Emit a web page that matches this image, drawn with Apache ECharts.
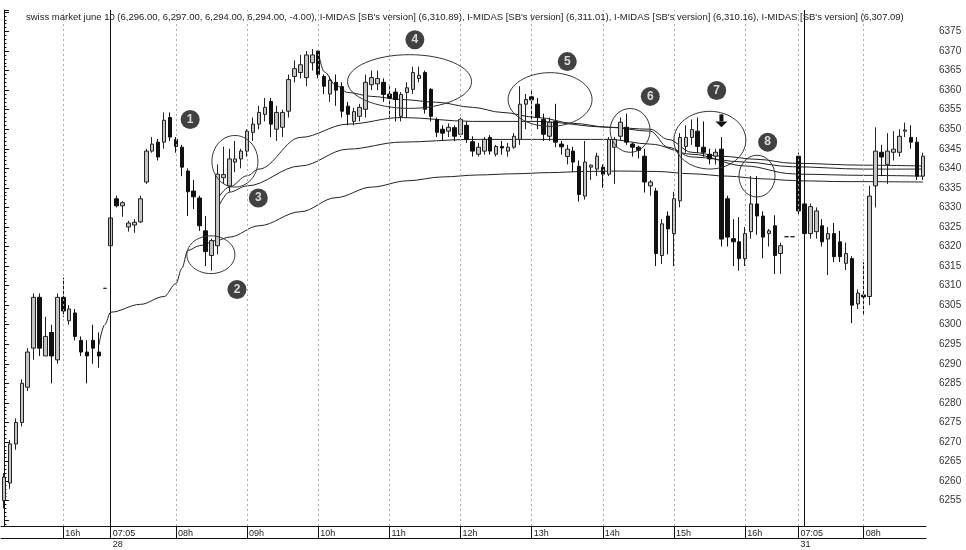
<!DOCTYPE html>
<html><head><meta charset="utf-8">
<script src="https://cdn.jsdelivr.net/npm/echarts@6/dist/echarts.min.js"></script>
<style>html,body{margin:0;padding:0;background:#fff}#c{width:966px;height:550px}</style>
</head><body><div id="c"></div>
<script>
const titleText = "swiss market june 10 (6,296.00, 6,297.00, 6,294.00, 6,294.00, -4.00), I-MIDAS [SB's version] (6,310.89), I-MIDAS [SB's version] (6,311.01), I-MIDAS [SB's version] (6,310.16), I-MIDAS [SB's version] (6,307.09)";

// sessions: [day, first bar, last bar] (5-minute bars)
const sessions = [['27', '15:10', '16:35'], ['28', '07:05', '16:40'], ['31', '07:05', '08:50']];

// candles: [open, close, low, high]
const day1Candles = [
  [6255, 6261, 6253, 6262], [6259.5, 6269.5, 6258, 6270.5], [6269.5, 6275, 6268, 6276], [6275, 6285, 6274, 6286],
  [6284, 6293, 6283, 6294], [6294, 6307, 6291, 6308], [6307, 6294, 6292, 6308], [6292, 6297, 6292, 6302],
  [6298, 6292, 6285, 6300], [6291, 6307, 6290, 6308], [6307, 6303.5, 6302, 6312], [6301, 6304, 6300, 6305],
  [6303, 6297, 6296, 6304], [6296, 6293, 6292, 6297], [6293, 6292, 6285, 6296], [6296, 6294, 6290, 6300],
  [6293, 6292, 6289, 6298], [6309.3, 6309.3, 6309.3, 6309.3]
];
const day2Candles = [
  [6320.2, 6327.3, 6319, 6328], [6332.2, 6330.4, 6330, 6333], [6330.4, 6331.2, 6327.6, 6331.6], [6325, 6326, 6323.8, 6326.6],
  [6325.5, 6326.2, 6323.5, 6327], [6326.3, 6332.2, 6326, 6333], [6336.5, 6344.4, 6336, 6345], [6344.4, 6346.2, 6344, 6348],
  [6346.7, 6342.9, 6342, 6347.5], [6346.7, 6352.3, 6345, 6354.3], [6353, 6348, 6347, 6354.3], [6347.4, 6345.6, 6344, 6348],
  [6345.4, 6340.3, 6338, 6346], [6339.3, 6334, 6327.8, 6340], [6334.2, 6332.7, 6329.6, 6337], [6332.4, 6325.3, 6324, 6333],
  [6324, 6318.7, 6315, 6327.8], [6317.7, 6321.5, 6313.8, 6322], [6320.2, 6338.5, 6318, 6341], [6337.6, 6338.4, 6336, 6345.5],
  [6335.5, 6342.4, 6334, 6345], [6341.6, 6342.4, 6339, 6347], [6342.4, 6344.4, 6340, 6345], [6344.4, 6349.5, 6343, 6350],
  [6349.2, 6351.3, 6347, 6353], [6351.3, 6354.3, 6350, 6356], [6353.8, 6355.6, 6352, 6358], [6357.1, 6351.3, 6348, 6358],
  [6350, 6354.3, 6347, 6356], [6350.5, 6354.3, 6348, 6355], [6354.6, 6362.7, 6353, 6364], [6363.5, 6365.5, 6362, 6367.6],
  [6364.5, 6366.5, 6363, 6369], [6363.2, 6369, 6361, 6370], [6367, 6369, 6365, 6370.5], [6370, 6364, 6363, 6370],
  [6363.5, 6361, 6359, 6364], [6359, 6362.5, 6357, 6363.5], [6362, 6360, 6356, 6364], [6360.9, 6354.6, 6353, 6362],
  [6355.9, 6353.8, 6351, 6357], [6352, 6354.5, 6351, 6355.5], [6353.3, 6355.6, 6352, 6356.5], [6355.1, 6362, 6353, 6364],
  [6361.4, 6363.2, 6360, 6365], [6361.6, 6363, 6360, 6365], [6362, 6358.9, 6357, 6363], [6359, 6358, 6353, 6361],
  [6359.5, 6357.6, 6352, 6360.5], [6353.3, 6358.9, 6352, 6359.5], [6359.4, 6360.6, 6353, 6362], [6360.2, 6364.5, 6359, 6366],
  [6363, 6363.8, 6362, 6366], [6364.5, 6355.1, 6354, 6365], [6360.2, 6353.3, 6352, 6360.5], [6352.5, 6349.2, 6348, 6353],
  [6350, 6349, 6347, 6351], [6349.5, 6350.5, 6348, 6351.5], [6350.4, 6348.2, 6347, 6351], [6348.7, 6352.5, 6348, 6353],
  [6351, 6347.4, 6346.5, 6352], [6346.8, 6344.4, 6343, 6348.2], [6343.6, 6345.4, 6343, 6346.5], [6344.4, 6347.4, 6343.5, 6348],
  [6347.9, 6344.4, 6343.5, 6348.5], [6343.6, 6345.6, 6343, 6346], [6345.6, 6345.2, 6343.5, 6347], [6344.4, 6345.4, 6343, 6346.5],
  [6345.4, 6348.2, 6345, 6349], [6347.4, 6356.4, 6346, 6361], [6356.4, 6357.6, 6350, 6359], [6358.3, 6357.5, 6352, 6360],
  [6356.4, 6353, 6350, 6358], [6352.5, 6348.7, 6347, 6354], [6348.2, 6351.8, 6347, 6353], [6352, 6346.7, 6345.4, 6356.5],
  [6346.2, 6345.5, 6343.5, 6347], [6343, 6344.9, 6341, 6346], [6344.4, 6341.6, 6339, 6345.5], [6340.5, 6333.3, 6331.5, 6342],
  [6332.9, 6341.6, 6332, 6347], [6340.3, 6340.8, 6337, 6341], [6339.8, 6343.1, 6338, 6344], [6340.3, 6338.5, 6335, 6341],
  [6338.5, 6347.4, 6338, 6348], [6345.4, 6347.4, 6336, 6348], [6348.2, 6351.8, 6347, 6353], [6350.5, 6346.7, 6346, 6354],
  [6346.2, 6345.4, 6343, 6346.5], [6345.4, 6344.6, 6342.5, 6345.8], [6343.1, 6336.5, 6333.8, 6345], [6335.5, 6336.5, 6333, 6337],
  [6334.2, 6318.2, 6315, 6335], [6317.7, 6325.8, 6315.5, 6327], [6327.8, 6324.5, 6318, 6329], [6323.3, 6332.2, 6315, 6334],
  [6331.7, 6347.9, 6330, 6349], [6345.6, 6347.9, 6344, 6351], [6347.9, 6349.9, 6346, 6352.5], [6349.5, 6345.6, 6344, 6353],
  [6345.4, 6344.1, 6343, 6352], [6343.6, 6342.4, 6341, 6345], [6343.1, 6344.1, 6341, 6345], [6344.9, 6321.9, 6320, 6348],
  [6332.2, 6322.4, 6320, 6333], [6322, 6321.2, 6315, 6327], [6321.2, 6316.9, 6313.8, 6327.5], [6316.9, 6323.3, 6315, 6325],
  [6323.8, 6330.9, 6322, 6338], [6330.9, 6327.8, 6323, 6338], [6327.8, 6322.4, 6317, 6329], [6323.3, 6324, 6320, 6324.5],
  [6325.3, 6317.7, 6313, 6328], [6318.2, 6320.2, 6313, 6321], [6322.5, 6322.5, 6322.5, 6322.5], [6322.5, 6322.5, 6322.5, 6322.5]
];
const day3Candles = [
  [6343.1, 6329.1, 6328, 6344], [6330.9, 6323.3, 6321, 6331], [6323.3, 6330.2, 6322, 6331], [6323.8, 6329.1, 6322, 6330],
  [6325.3, 6321.2, 6320, 6327], [6321.9, 6323.3, 6312.7, 6325], [6323.3, 6317.4, 6316, 6326], [6321.2, 6317.4, 6316, 6324],
  [6315.7, 6318.2, 6314, 6321], [6316.9, 6305, 6300.4, 6317.5], [6305.3, 6308.1, 6304, 6309], [6307.6, 6307.1, 6302.5, 6316],
  [6307.2, 6332.9, 6305, 6335.5], [6335.5, 6344.4, 6330, 6350.5], [6344.1, 6342.9, 6338, 6346], [6341, 6344.4, 6336, 6349],
  [6344.1, 6344.9, 6342, 6349.5], [6344.1, 6348.2, 6343, 6350], [6349.5, 6349.8, 6348, 6351.7], [6347.9, 6346.7, 6345, 6351],
  [6346.7, 6338, 6337, 6348], [6338, 6343.1, 6337, 6344]
];

// I-MIDAS curves: [bar, value] read at sample bars
const midasA = [['27 16:30', 6294.8], ['27 16:35', 6300], ['28 07:05', 6303.2], ['28 07:30', 6305.2], ['28 07:50', 6307.2],
  ['28 08:00', 6310.5], ['28 08:05', 6314.4], ['28 08:10', 6319], ['28 08:20', 6320.2], ['28 08:35', 6321.6], ['28 08:45', 6322.4],
  ['28 09:10', 6325.3], ['28 09:45', 6328.9], ['28 10:15', 6332.5], ['28 10:45', 6335.2], ['28 11:15', 6336.8], ['28 11:45', 6337.8],
  ['28 12:15', 6338.3], ['28 12:45', 6338.6], ['28 13:15', 6338.9], ['28 13:45', 6339.2], ['28 14:15', 6339.3], ['28 14:45', 6339.2],
  ['28 15:15', 6338.6], ['28 15:45', 6338], ['28 16:15', 6337.3], ['28 16:40', 6336.9], ['31 07:05', 6336.8], ['31 07:45', 6336.6],
  ['31 08:50', 6336.5]];
const midasB = [['28 08:35', 6329.6], ['28 08:45', 6333.9], ['28 09:00', 6335.5], ['28 09:45', 6340.6], ['28 10:25', 6344.9],
  ['28 11:10', 6346.7], ['28 12:10', 6347.4], ['28 13:05', 6347.4], ['28 14:05', 6347.4], ['28 14:40', 6346.2], ['28 15:15', 6343.6],
  ['28 16:00', 6340.6], ['28 16:40', 6338.6], ['31 07:05', 6338.5], ['31 08:00', 6338.2], ['31 08:50', 6338]];
const midasC = [['28 08:35', 6332.2], ['28 08:45', 6335.2], ['28 09:00', 6338.1], ['28 09:10', 6339.8], ['28 09:45', 6347.9],
  ['28 10:25', 6351.3], ['28 11:10', 6353], ['28 12:10', 6352], ['28 13:05', 6352], ['28 14:05', 6350.5], ['28 14:40', 6349.5],
  ['28 14:55', 6345.4], ['28 15:15', 6342.9], ['28 16:00', 6341.6], ['28 16:40', 6340.4], ['31 08:00', 6339.8], ['31 08:50', 6339.8]];
const midasD = [['28 10:00', 6369.8], ['28 10:05', 6364.7], ['28 10:15', 6361.2], ['28 10:25', 6359.4], ['28 10:45', 6358.4],
  ['28 11:10', 6357.6], ['28 11:40', 6356.9], ['28 12:10', 6355.6], ['28 12:35', 6354.3], ['28 13:05', 6353], ['28 13:35', 6351.5],
  ['28 14:05', 6350.5], ['28 14:40', 6350], ['28 14:55', 6347.4], ['28 15:15', 6344.1], ['28 15:40', 6343.1], ['28 16:10', 6342.3],
  ['28 16:40', 6341.3], ['31 08:00', 6340.8], ['31 08:50', 6340.6]];

// x-axis ticks
const hourTicks = ['27 16:00', '28 07:05', '28 08:00', '28 09:00', '28 10:00', '28 11:00', '28 12:00', '28 13:00', '28 14:00', '28 15:00', '28 16:00', '31 07:05', '31 08:00'];
const hourLabels = ['16h', '07:05\n28', '08h', '09h', '10h', '11h', '12h', '13h', '14h', '15h', '16h', '07:05\n31', '08h'];
const daySeparators = ['28 07:05', '31 07:10'];

// annotations, in (bar index, price) units: [centre bar, centre price, half-width in bars, half-height in points]
const ellipses = [[34.9, 6317.9, 4.05, 4.83], [38.95, 6341.8, 3.88, 6.6], [68.4, 6362.2, 10.46, 6.87], [92.1, 6357.6, 7.08, 6.87],
  [105.6, 6349.7, 3.37, 5.6], [119.05, 6347.2, 6.07, 7.38], [127.0, 6338.0, 3.04, 5.34]];
const badges = [[31.4, 6352.5, '1'], [39.3, 6309.0, '2'], [42.9, 6332.4, '3'], [69.3, 6372.9, '4'], [95.0, 6367.3, '5'],
  [109.0, 6358.4, '6'], [120.2, 6359.9, '7'], [128.8, 6346.7, '8']];
const arrows = [[121.0, 6353.8, 6352.0, 6350.5]];

function buildSlots(day, start, end) {
  const out = [];
  let [h, m] = start.split(':').map(Number);
  const [eh, em] = end.split(':').map(Number);
  while (h * 60 + m <= eh * 60 + em) {
    out.push(day + ' ' + String(h).padStart(2, '0') + ':' + String(m).padStart(2, '0'));
    m += 5; if (m >= 60) { m -= 60; h++; }
  }
  return out;
}
const categories = [].concat(...sessions.map(s => buildSlots(s[0], s[1], s[2])));
const candles = day1Candles.concat(day2Candles, day3Candles);
const N = categories.length;
const tickIdx = new Set(hourTicks.map(t => categories.indexOf(t)));
const labelOf = {}; hourTicks.forEach((t, i) => labelOf[t] = hourLabels[i]);

const markData = [];
hourTicks.forEach(t => markData.push({ xAxis: categories.indexOf(t), lineStyle: { color: '#aaa', type: [2, 3], width: 1 } }));
daySeparators.forEach(t => markData.push({ xAxis: categories.indexOf(t), lineStyle: { color: '#111', type: 'solid', width: 1 } }));

const FONT = 'Liberation Sans, Arial, sans-serif';
const chart = echarts.init(document.getElementById('c'), null, { renderer: 'canvas' });
const midasStyle = { color: '#222', width: 1 };
function midasSeries(data) {
  return { type: 'line', xAxisIndex: 0, yAxisIndex: 0, data: data, symbol: 'none', smooth: 0.35, smoothMonotone: 'x',
    lineStyle: midasStyle, silent: true, z: 3 };
}
chart.setOption({
  animation: false,
  backgroundColor: '#fff',
  title: { text: titleText, left: 21, top: 7, textStyle: { fontSize: 9.5, fontWeight: 'normal', color: '#222', fontFamily: FONT } },
  grid: { left: 1, right: 40, top: 10, bottom: 21 },
  xAxis: [
    { type: 'category', data: categories, boundaryGap: true, position: 'bottom',
      axisLine: { onZero: false, lineStyle: { color: '#111', width: 1 } },
      axisTick: { show: true, alignWithLabel: true, length: 12, interval: (i) => tickIdx.has(i), lineStyle: { color: '#111' } },
      axisLabel: { interval: (i) => tickIdx.has(i), formatter: (v) => labelOf[v] || '', align: 'left', padding: [0, 0, 0, 2],
        margin: 2, fontSize: 9, lineHeight: 11, color: '#222', fontFamily: FONT },
      splitLine: { show: false } },
    { type: 'value', min: -0.5, max: N - 0.5, position: 'bottom', offset: 12,
      axisLine: { show: true, onZero: false, lineStyle: { color: '#111', width: 1 } },
      axisTick: { show: false }, axisLabel: { show: false }, splitLine: { show: false } }
  ],
  yAxis: [{
    type: 'value', position: 'right', min: 6248.5, max: 6380.5, splitNumber: 26, scale: true,
    axisLine: { show: true, lineStyle: { color: '#111' } },
    axisTick: { show: true, length: 5, lineStyle: { color: '#111' } },
    minorTick: { show: true, splitNumber: 5, length: 2.5, lineStyle: { color: '#111' } },
    axisLabel: { margin: 13, fontSize: 10, color: '#333', fontFamily: FONT,
      formatter: (v) => (Math.abs(v % 5) < 1e-6 && v >= 6255 && v <= 6375) ? String(Math.round(v)) : '' },
    splitLine: { show: false }
  }],
  series: [
    { type: 'candlestick', xAxisIndex: 0, yAxisIndex: 0, data: candles, barWidth: 4,
      itemStyle: { color: '#c4c4c4', color0: '#111', borderColor: '#222', borderColor0: '#111', borderWidth: 1 },
      markLine: { silent: true, symbol: 'none', label: { show: false }, data: markData, animation: false },
      z: 4 },
    midasSeries(midasA), midasSeries(midasB), midasSeries(midasC), midasSeries(midasD),
    { type: 'custom', xAxisIndex: 1, yAxisIndex: 0, data: ellipses, silent: true, z: 6,
      renderItem: (params, api) => {
        const c = api.coord([api.value(0), api.value(1)]);
        const e = api.coord([api.value(0) + api.value(2), api.value(1) + api.value(3)]);
        return { type: 'ellipse', shape: { cx: c[0], cy: c[1], rx: Math.abs(e[0] - c[0]), ry: Math.abs(e[1] - c[1]) },
          style: { fill: 'none', stroke: '#333', lineWidth: 1 } };
      } },
    { type: 'custom', xAxisIndex: 1, yAxisIndex: 0, data: arrows, silent: true, z: 7,
      renderItem: (params, api) => {
        const t = api.coord([api.value(0), api.value(1)]);
        const b = api.coord([api.value(0), api.value(2)]);
        const p = api.coord([api.value(0), api.value(3)]);
        return { type: 'group', children: [
          { type: 'line', shape: { x1: t[0], y1: t[1], x2: b[0], y2: b[1] }, style: { stroke: '#111', lineWidth: 4 } },
          { type: 'polygon', shape: { points: [[b[0] - 6, b[1]], [b[0] + 6, b[1]], [p[0], p[1]]] }, style: { fill: '#111' } }
        ] };
      } },
    { type: 'scatter', xAxisIndex: 1, yAxisIndex: 0, data: badges, symbol: 'circle', symbolSize: 19, silent: true, z: 8,
      itemStyle: { color: '#111' },
      label: { show: true, position: 'inside', formatter: (p) => p.value[2], color: '#fff', fontWeight: 'bold', fontSize: 12, fontFamily: FONT } }
  ]
});
</script></body></html>
